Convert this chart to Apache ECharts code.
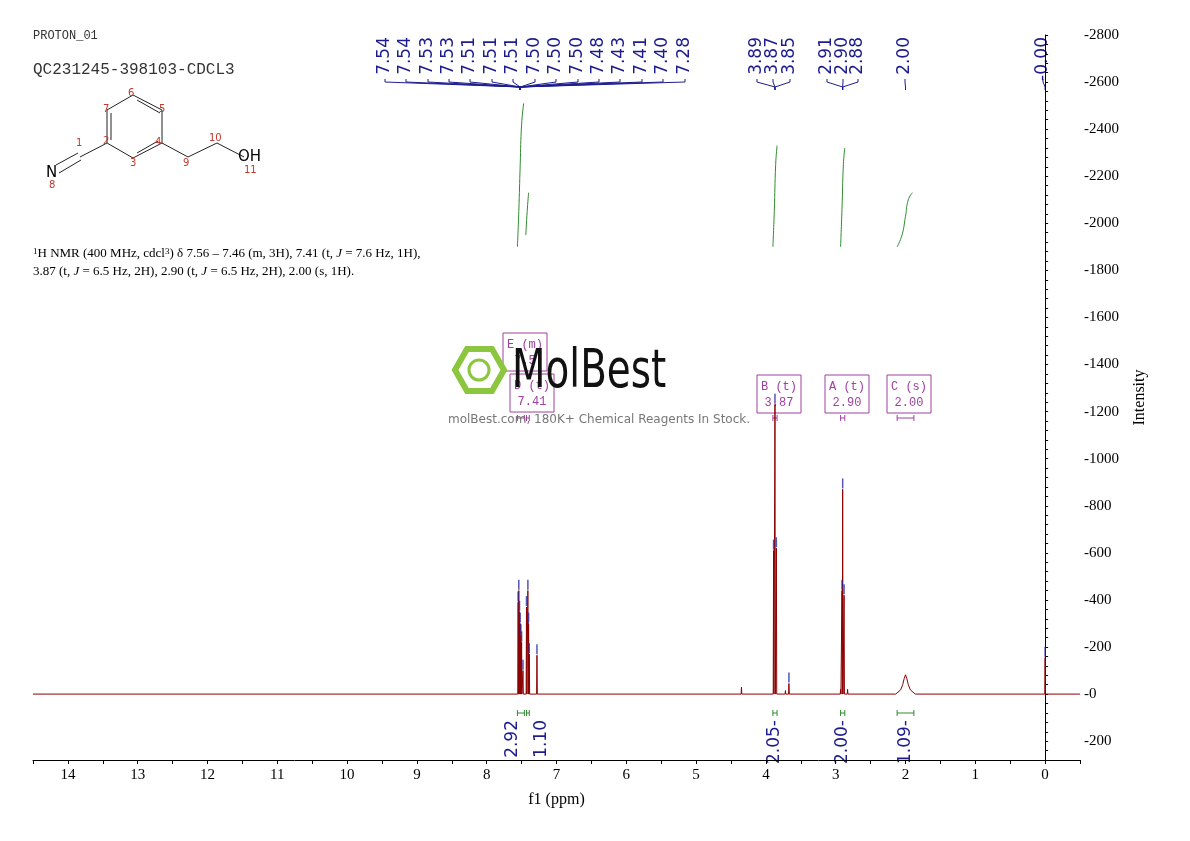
<!DOCTYPE html>
<html>
<head>
<meta charset="utf-8">
<title>PROTON_01</title>
<style>html,body{margin:0;padding:0;background:#fff}#chart{width:1190px;height:841px}</style>
</head>
<body>
<div id="chart"></div>
<script src="https://cdn.jsdelivr.net/npm/echarts@6/dist/echarts.min.js"></script>
<script>
// sharp peaks: shift (ppm), height
const peakShifts = [7.55, 7.54, 7.53, 7.52, 7.51, 7.50, 7.48, 7.43, 7.41, 7.40, 7.39, 7.28, 4.35, 3.89, 3.87, 3.85, 3.72, 3.67, 2.93, 2.91, 2.90, 2.88, 2.83, 0.00];
const peakHeights = [390, 440, 350, 300, 250, 220, 100, 370, 440, 300, 170, 165, 30, 610, 1230, 620, 15, 45, 20, 440, 870, 420, 20, 155];
// broad OH singlet around 2.00
const broadPeak = [[2.14, 0], [2.07, 18], [2.04, 40], [2.02, 65], [2.00, 82], [1.98, 65], [1.96, 40], [1.93, 18], [1.86, 0]];
// peak labels at the top
const topLabels = ['7.54','7.54','7.53','7.53','7.51','7.51','7.51','7.50','7.50','7.50','7.48','7.43','7.41','7.40','7.28','3.89','3.87','3.85','2.91','2.90','2.88','2.00','-0.00'];
const topLabelX = [385,406,428,449,470,492,513,535,556,578,599,620,642,663,685,757,773,790,827,843,858,905,1043];
const topGroupPeak = [7.52,7.52,7.52,7.52,7.52,7.52,7.52,7.52,7.52,7.52,7.52,7.52,7.52,7.52,7.52,3.87,3.87,3.87,2.90,2.90,2.90,2.00,0.00];
// integrals
const integralCurves = [
  [[7.56,1900],[7.54,2050],[7.52,2250],[7.50,2420],[7.47,2510]],
  [[7.44,1950],[7.42,2050],[7.40,2130]],
  [[3.90,1900],[3.88,2050],[3.86,2250],[3.84,2330]],
  [[2.93,1900],[2.91,2060],[2.89,2250],[2.87,2320]],
  [[2.12,1900],[2.05,1950],[2.00,2030],[1.96,2100],[1.90,2130]]
];
const integralValues = ['2.92','1.10','2.05-','2.00-','1.09-'];
const integralCenters = [7.51, 7.41, 3.87, 2.90, 2.00];
const integralRanges = [[7.56,7.46],[7.43,7.39],[3.90,3.84],[2.93,2.87],[2.12,1.88]];
// multiplet boxes
const boxes = [
  {t:'E (m)\n7.5', x:503, y:333},
  {t:'D (t)\n7.41', x:510, y:374},
  {t:'B (t)\n3.87', x:757, y:375},
  {t:'A (t)\n2.90', x:825, y:375},
  {t:'C (s)\n2.00', x:887, y:375}
];

const spec = [[14.5,0],[-0.5,0]];
peakShifts.forEach((p, i) => {
  spec.push([p + 0.005, 0], [p, peakHeights[i]], [p - 0.005, 0]);
});
broadPeak.forEach(d => spec.push(d));
spec.sort((a, b) => b[0] - a[0]);

const markerPts = peakShifts.map((p, i) => [p, peakHeights[i] + 25]).filter((d, i) => ![12,16,18,22].includes(i));

const chart = echarts.init(document.getElementById('chart'));
const serif = 'Liberation Serif';
chart.setOption({
  animation: false,
  grid: {left: 33, right: 110, top: 35, bottom: 81},
  xAxis: {
    type: 'value', inverse: true, min: -0.5, max: 14.5, interval: 0.5,
    name: 'f1 (ppm)', nameLocation: 'middle', nameGap: 32,
    nameTextStyle: {fontFamily: serif, fontSize: 16, color: '#000'},
    axisLine: {onZero: false, lineStyle: {color: '#000'}},
    axisTick: {length: 4, lineStyle: {color: '#000'}},
    splitLine: {show: false},
    axisLabel: {fontFamily: serif, fontSize: 15, color: '#000', margin: 8,
      formatter: v => (Math.abs(v % 1) < 1e-6 ? String(Math.round(v)) : '')}
  },
  yAxis: {
    type: 'value', position: 'right', min: -280, max: 2800, interval: 40,
    name: 'Intensity', nameLocation: 'middle', nameGap: 52, nameRotate: 90,
    nameTextStyle: {fontFamily: serif, fontSize: 16, color: '#000'},
    axisLine: {show: true, lineStyle: {color: '#000'}},
    axisTick: {length: 3, lineStyle: {color: '#000'}},
    splitLine: {show: false},
    axisLabel: {fontFamily: serif, fontSize: 15, color: '#000', margin: 4,
      formatter: v => (v % 200 === 0 ? (v < 0 ? String(v) : '-' + v) : '')}
  },
  series: [
    {type: 'line', data: spec, showSymbol: false, lineStyle: {color: '#8b0000', width: 1}, z: 3},
    {type: 'scatter', data: markerPts, symbol: 'rect', symbolSize: [1.5, 10], itemStyle: {color: '#2b2ba0'}, z: 4},
    ...integralCurves.map(c => ({type: 'line', data: c, smooth: true, showSymbol: false, lineStyle: {color: '#2e8b2e', width: 1}}))
  ]
});

const px = (x, y) => chart.convertToPixel({gridIndex: 0}, [x, y]);
const g = [];
const navy = '#1c1c8f';
// molecule
const A = {c6:[133,95], c5:[162,110], c4:[162,143], c3:[133,158], c2:[107,143], c7:[107,110], c1:[80,157], n:[54,170], c9:[188,157], c10:[217,143], o:[244,157]};
const bond = (a, b) => g.push({type: 'line', shape: {x1:a[0], y1:a[1], x2:b[0], y2:b[1]}, style: {stroke: '#222', lineWidth: 1}});
[['c6','c5'],['c5','c4'],['c4','c3'],['c3','c2'],['c2','c7'],['c7','c6'],['c2','c1'],['c4','c9'],['c9','c10'],['c10','o']].forEach(b => bond(A[b[0]], A[b[1]]));
bond([137,100],[160,113]); bond([111,113],[111,140]); bond([137,153],[158,141]);
bond([78,153],[56,165]); bond([81,160],[59,173]);
g.push({type:'text', style:{text:'N', x:46, y:166, font:'15px "DejaVu Sans"', fill:'#000'}});
g.push({type:'text', style:{text:'OH', x:238, y:150, font:'15px "DejaVu Sans"', fill:'#000'}});
[['6',128,88],['5',159,104],['4',155,137],['3',130,158],['2',103,136],['7',103,104],['1',76,138],['8',49,180],['9',183,158],['10',209,133],['11',244,165]].forEach(l =>
  g.push({type:'text', style:{text:l[0], x:l[1], y:l[2], font:'10px "DejaVu Sans"', fill:'#c0392b'}}));
// header texts
g.push({type:'text', style:{text:'PROTON_01', x:33, y:30, font:'12px "Liberation Mono"', fill:'#333'}});
g.push({type:'text', style:{text:'QC231245-398103-CDCL3', x:33, y:62, font:'16px "Liberation Mono"', fill:'#333'}});
g.push({type:'text', style:{rich:{a:{fontFamily:serif,fontSize:13,fill:'#000'},s:{fontFamily:serif,fontSize:9,fill:'#000',verticalAlign:'top'},i:{fontFamily:serif,fontSize:13,fontStyle:'italic',fill:'#000'}},
  text:'{s|1}{a|H NMR (400 MHz, cdcl}{s|3}{a|) δ 7.56 – 7.46 (m, 3H), 7.41 (t, }{i|J}{a| = 7.6 Hz, 1H),}', x:33, y:247}});
g.push({type:'text', style:{rich:{a:{fontFamily:serif,fontSize:13,fill:'#000'},i:{fontFamily:serif,fontSize:13,fontStyle:'italic',fill:'#000'}},
  text:'{a|3.87 (t, }{i|J}{a| = 6.5 Hz, 2H), 2.90 (t, }{i|J}{a| = 6.5 Hz, 2H), 2.00 (s, 1H).}', x:33, y:265}});
// top peak labels with connectors
topLabels.forEach((t, i) => {
  const x = topLabelX[i];
  const pk = px(topGroupPeak[i], 0)[0];
  g.push({type:'text', rotation: Math.PI/2, x: x, y: 37, style:{text:t, font:'17px "DejaVu Sans"', fill:navy, align:'right', verticalAlign:'middle'}});
  g.push({type:'polyline', shape:{points:[[x,79],[x,82],[pk,87],[pk,90]]}, style:{stroke:navy, lineWidth:1, fill:null}});
});
// multiplet boxes
boxes.forEach(b => {
  g.push({type:'rect', shape:{x:b.x, y:b.y, width:44, height:38}, style:{stroke:'#a040a0', fill:null, lineWidth:1}});
  g.push({type:'text', style:{text:b.t, x:b.x+22, y:b.y+4, align:'center', font:'12px "Liberation Mono"', lineHeight:16, fill:'#a040a0'}});
});
// ranges under boxes and integral brackets
integralRanges.forEach((r, i) => {
  const a = px(r[0], 0)[0], b = px(r[1], 0)[0];
  [[418,'#a040a0'],[713,'#2e8b2e']].forEach(([y, c]) => {
    g.push({type:'polyline', shape:{points:[[a,y-3],[a,y+3]]}, style:{stroke:c}});
    g.push({type:'polyline', shape:{points:[[b,y-3],[b,y+3]]}, style:{stroke:c}});
    g.push({type:'line', shape:{x1:a, y1:y, x2:b, y2:y}, style:{stroke:c}});
  });
  const cx = px(integralCenters[i], 0)[0] + (i === 0 ? -8 : i === 1 ? 14 : 0);
  g.push({type:'text', rotation: Math.PI/2, x: cx, y: 720, style:{text:integralValues[i], font:'17px "DejaVu Sans"', fill:navy, align:'right', verticalAlign:'middle'}});
});
// watermark
g.push({type:'polygon', shape:{points:[[455,370],[467,349],[492,349],[504,370],[492,391],[467,391]]}, style:{stroke:'#8cc63f', lineWidth:6, fill:null}});
g.push({type:'circle', shape:{cx:479, cy:370, r:10}, style:{stroke:'#8cc63f', lineWidth:3, fill:null}});
g.push({type:'text', x:512, y:346, scaleX:0.72, style:{text:'MolBest', x:0, y:0, font:'54px "DejaVu Sans"', fill:'#111'}});
g.push({type:'text', style:{text:'molBest.com, 180K+ Chemical Reagents In Stock.', x:448, y:414, font:'12px "DejaVu Sans"', fill:'#777'}});
chart.setOption({graphic: g});
</script>
</body>
</html>
